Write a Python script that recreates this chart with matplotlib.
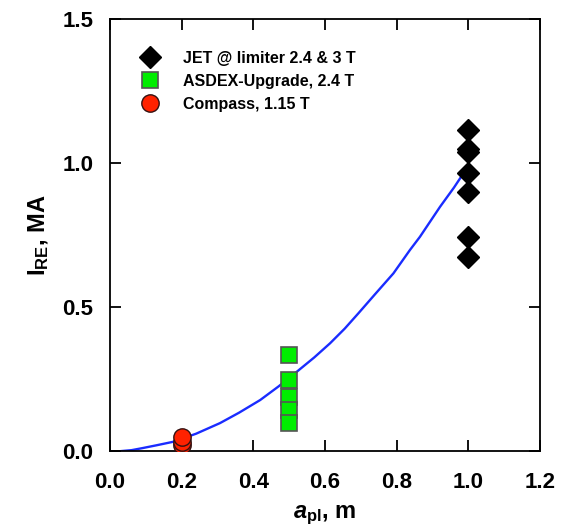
import matplotlib
matplotlib.use('Agg')
import matplotlib.pyplot as plt

plt.rcParams['font.family'] = ['Liberation Sans', 'DejaVu Sans']
plt.rcParams['font.weight'] = 'bold'
plt.rcParams['mathtext.fontset'] = 'custom'
plt.rcParams['mathtext.rm'] = 'Liberation Sans:bold'
plt.rcParams['mathtext.it'] = 'Liberation Sans:bold:italic'
plt.rcParams['mathtext.bf'] = 'Liberation Sans:bold'

# 数据
jet_a = [1.0, 1.0, 1.0, 1.0, 1.0, 1.0, 1.0]
jet_i = [1.115, 1.05, 1.038, 0.965, 0.899, 0.743, 0.674]
asdex_a = [0.5, 0.5, 0.5, 0.5, 0.5]
asdex_i = [0.333, 0.247, 0.188, 0.142, 0.097]
compass_a = [0.2, 0.2, 0.2]
compass_i = [0.021, 0.031, 0.047]
fit_a = [0.033, 0.06, 0.09, 0.13, 0.176, 0.24, 0.307, 0.36, 0.419, 0.47,
         0.521, 0.57, 0.614, 0.655, 0.693, 0.74, 0.791, 0.837, 0.865, 0.921,
         0.96, 1.0]
fit_i = [0.0, 0.003, 0.01, 0.02, 0.032, 0.06, 0.097, 0.133, 0.177, 0.224,
         0.275, 0.325, 0.374, 0.425, 0.478, 0.545, 0.617, 0.698, 0.744, 0.848,
         0.915, 0.99]

fig = plt.figure(figsize=(5.68, 5.29), dpi=100)
ax = fig.add_axes([0.1937, 0.1474, 0.757, 0.8166])

ax.plot(fit_a, fit_i, color='#1a2cff', lw=1.7, zorder=2)
ax.plot(jet_a, jet_i, 'D', color='black', ms=11, mec='black',
        label='JET @ limiter 2.4 & 3 T', zorder=3)
ax.plot(asdex_a, asdex_i, 's', color='#00ee00', ms=11.5, mec='#555555',
        mew=1.2, label='ASDEX-Upgrade, 2.4 T', zorder=3)
ax.plot(compass_a, compass_i, 'o', color='#ff2200', ms=12.5, mec='#331111',
        mew=1.0, label='Compass, 1.15 T', zorder=3)

ax.set_xlim(0, 1.2)
ax.set_ylim(0, 1.5)
ax.set_xticks([0.0, 0.2, 0.4, 0.6, 0.8, 1.0, 1.2])
ax.set_yticks([0.0, 0.5, 1.0, 1.5])
ax.xaxis.set_major_formatter(matplotlib.ticker.FormatStrFormatter('%.1f'))
ax.yaxis.set_major_formatter(matplotlib.ticker.FormatStrFormatter('%.1f'))
ax.tick_params(direction='in', length=8, width=1.3, top=True, right=True,
               labelsize=16)
ax.tick_params(axis='x', pad=15)
ax.tick_params(axis='y', pad=12)
for s in ax.spines.values():
    s.set_linewidth(1.3)

ax.set_xlabel(r'$a_{\rm pl}$, m', fontsize=17, fontweight='bold', labelpad=8)
ax.set_ylabel(r'$\rm I_{RE}$, MA', fontsize=17, fontweight='bold', labelpad=8)

ax.legend(loc='upper left', bbox_to_anchor=(0.03, 0.96), frameon=False,
          handlelength=1.6, handletextpad=1.25, labelspacing=0.5,
          prop={'weight': 'bold', 'size': 11.5})

fig.savefig('out.png', dpi=100)
